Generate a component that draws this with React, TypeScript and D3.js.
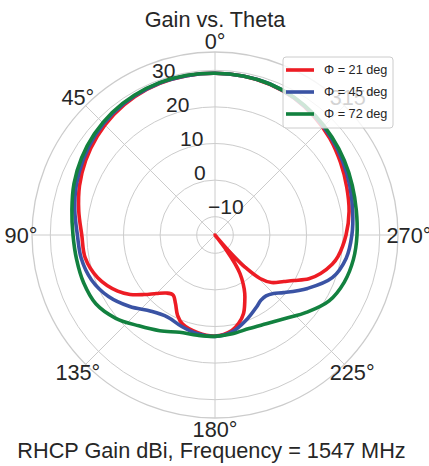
import React from 'react';
import * as d3 from 'd3';

// gain (dBi) vs theta (deg), theta measured counter-clockwise from top
const phi21: [number, number][] = [
  [0, 29.2], [10, 29.2], [20, 29.1], [30, 28.7], [40, 28.0], [50, 27.0], [60, 25.8], [70, 24.4],
  [80, 22.8], [90, 21.4], [100, 21.0], [110, 19.1], [120, 15.7], [125, 13.3], [130, 10.3], [135, 7.6],
  [140, 5.7], [145, 5.0], [150, 6.6], [155, 9.2], [160, 10.9], [170, 12.1], [180, 12.6], [190, 11.5],
  [195, 10.0], [200, 7.8], [204, 5.0], [207, 2.9], [210, 0.4], [213, -2.5], [215, -5.5], [217, -10],
  [218.5, -25], [220, -14], [221.5, -7], [223, -3], [226, 2.1], [230, 5.2], [236, 7.7], [240, 9.9],
  [245, 13.3], [250, 15.7], [256, 18.0], [260, 19.1], [270, 20.8], [280, 22.2], [290, 23.3], [300, 24.6],
  [310, 26.0], [320, 27.2], [330, 28.2], [340, 28.8], [350, 29.1],
];
const phi45: [number, number][] = [
  [0, 29.2], [10, 29.2], [20, 29.2], [30, 28.9], [40, 28.4], [50, 27.6], [60, 26.5], [70, 25.3],
  [80, 23.9], [90, 22.6], [100, 22.1], [110, 20.9], [120, 18.6], [130, 15.4], [140, 12.2], [150, 10.9],
  [160, 11.6], [170, 12.4], [180, 12.7], [190, 11.9], [200, 9.8], [210, 7.7], [215, 6.8], [220, 6.7],
  [225, 7.6], [230, 9.5], [240, 14.2], [250, 19.1], [260, 21.4], [270, 22.4], [280, 23.2], [290, 24.2],
  [300, 25.3], [310, 26.4], [320, 27.4], [330, 28.3], [340, 28.9], [350, 29.1],
];
const phi72: [number, number][] = [
  [0, 29.2], [10, 29.3], [20, 29.3], [30, 29.1], [40, 28.7], [50, 28.0], [60, 27.1], [70, 26.0],
  [80, 24.7], [90, 23.8], [100, 23.4], [110, 23.2], [120, 22.6], [130, 20.4], [140, 17.4], [150, 15.2],
  [160, 13.3], [170, 12.8], [180, 12.7], [190, 12.4], [200, 12.2], [210, 13.0], [220, 14.8], [230, 17.8],
  [240, 21.0], [250, 22.6], [260, 23.4], [270, 23.8], [280, 24.2], [290, 24.9], [300, 25.8], [310, 26.7],
  [320, 27.6], [330, 28.4], [340, 28.9], [350, 29.1],
];

const seriesNames = ['Φ = 21 deg', 'Φ = 45 deg', 'Φ = 72 deg'];
const seriesColors = ['#ed1c24', '#3a53a4', '#12813f'];
const seriesData = [phi21, phi45, phi72];

const rTicks = [-10, 0, 10, 20, 30];
const rDomain: [number, number] = [-15, 35];
const thetaTicks = [0, 45, 90, 135, 180, 225, 270, 315];

const W = 429;
const H = 466;
const cx = 215;
const cy = 235;
const R = 183;
const FONT = '"Liberation Sans", Arial, sans-serif';
const TXT = '#262626';
const GRID = '#cccccc';

export default function App() {
  const r = d3.scaleLinear().domain(rDomain).range([0, R]).clamp(true);
  const toRad = (deg: number) => (deg * Math.PI) / 180;

  const line = d3
    .lineRadial<[number, number]>()
    .angle((d) => -toRad(d[0]))
    .radius((d) => r(d[1]))
    .curve(d3.curveCatmullRomClosed.alpha(0.5));

  const rLabelAngle = toRad(22.5);
  const legendX = 283;
  const legendY = 57;

  return (
    <div style={{ position: 'absolute', left: 0, top: 0 }}>
      <svg width={W} height={H} style={{ display: 'block', background: '#fff' }} fontFamily={FONT}>
        <text x={cx} y={27} textAnchor="middle" fontSize={21.7} fill={TXT}>
          Gain vs. Theta
        </text>

        <g transform={`translate(${cx},${cy})`}>
          {rTicks.map((t) => (
            <circle key={t} r={r(t)} fill="none" stroke={GRID} strokeWidth={1} />
          ))}
          {thetaTicks.map((t) => (
            <line
              key={t}
              x1={0}
              y1={0}
              x2={-R * Math.sin(toRad(t))}
              y2={-R * Math.cos(toRad(t))}
              stroke={GRID}
              strokeWidth={1}
            />
          ))}
          <circle r={R} fill="none" stroke={GRID} strokeWidth={1.3} />

          {thetaTicks.map((t) => (
            <text
              key={t}
              x={-194 * Math.sin(toRad(t))}
              y={-194 * Math.cos(toRad(t))}
              textAnchor="middle"
              dominantBaseline="central"
              fontSize={21.7}
              fill={TXT}
            >
              {`${t}°`}
            </text>
          ))}

          {rTicks.map((t) => (
            <text
              key={t}
              x={-r(t) * Math.sin(rLabelAngle)}
              y={-r(t) * Math.cos(rLabelAngle) - 4.5}
              textAnchor="start"
              fontSize={21}
              fill={TXT}
            >
              {t < 0 ? `\u2212${Math.abs(t)}` : `${t}`}
            </text>
          ))}

          {seriesData.map((d, i) => (
            <path
              key={seriesNames[i]}
              d={line(d) || ''}
              fill="none"
              stroke={seriesColors[i]}
              strokeWidth={3.6}
              strokeLinejoin="round"
            />
          ))}
        </g>

        <g transform={`translate(${legendX},${legendY})`}>
          <rect width={110} height={71} rx={3} fill="#fff" fillOpacity={0.8} stroke={GRID} strokeWidth={1} />
          {seriesNames.map((n, i) => (
            <g key={n} transform={`translate(0,${13 + i * 22})`}>
              <line x1={3} x2={31} y1={0} y2={0} stroke={seriesColors[i]} strokeWidth={3.6} />
              <text x={41} y={0} dominantBaseline="central" fontSize={12.7} fill={TXT}>
                {n}
              </text>
            </g>
          ))}
        </g>

        <text x={211.5} y={458} textAnchor="middle" fontSize={21.7} fill={TXT}>
          RHCP Gain dBi, Frequency = 1547 MHz
        </text>
      </svg>
    </div>
  );
}
